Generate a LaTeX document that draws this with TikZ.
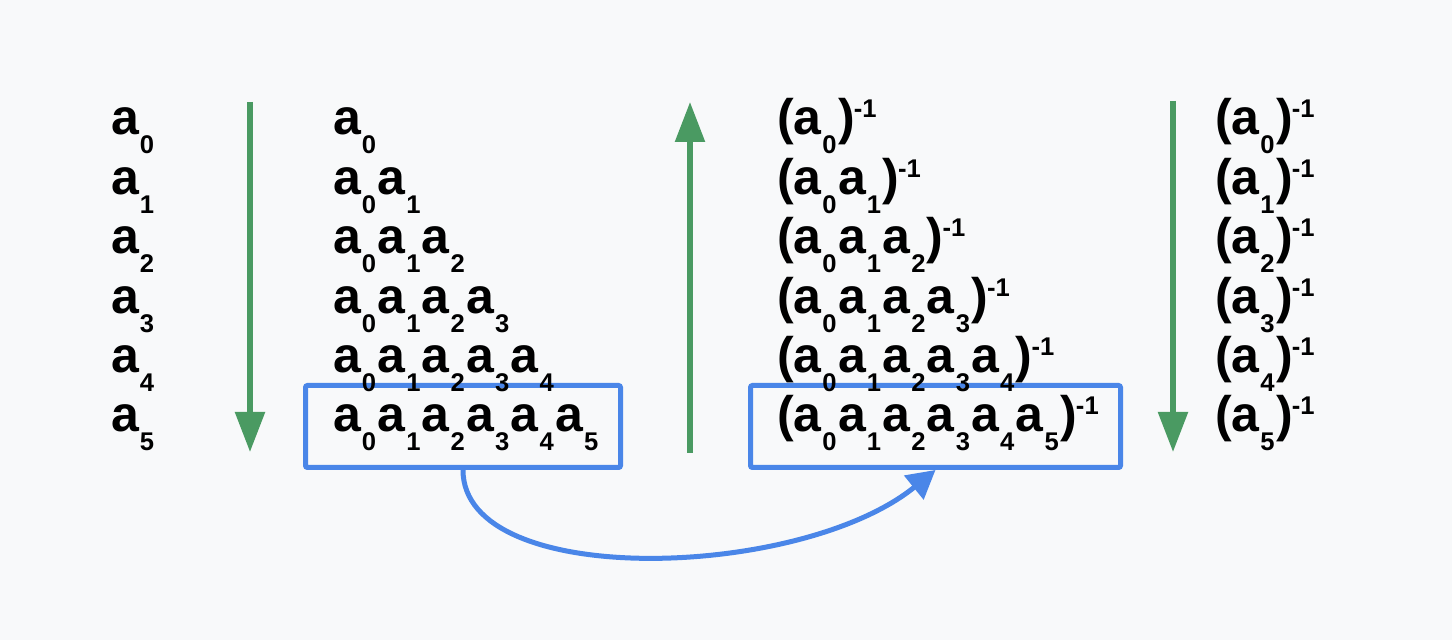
\documentclass[tikz,border=0pt]{standalone}
\usepackage{fontspec}
\setmainfont{Liberation Sans}
\usetikzlibrary{arrows.meta}
\definecolor{bg}{HTML}{F8F9FA}
\definecolor{grn}{HTML}{4A9A62}
\definecolor{blu}{HTML}{4A86E8}
\newcommand{\subf}{\fontsize{12.8}{12.8}\selectfont}
\newcommand{\ai}[1]{a\kern0.5pt\raisebox{-9.5pt}{\subf #1}\kern0.7pt}
\newcommand{\inv}{\kern-0.5pt\raisebox{8.5pt}{\subf -1}}
\begin{document}
\begin{tikzpicture}[x=0.5pt,y=-0.5pt,
  txt/.style={anchor=base west, inner sep=0pt, outer sep=0pt, font=\bfseries\fontsize{25}{25}\selectfont},
  box/.style={draw=blu, line width=2.5pt, rounded corners=1pt, inner sep=0pt},
  garrow/.style={draw=grn, line width=2.75pt, -{Triangle[width=14.5pt,length=20pt]}},
  barrow/.style={draw=blu, line width=2.5pt, -{Triangle[width=15pt,length=14pt]}}]
\fill[bg] (0,0) rectangle (1452,640);
% boxes
\node[box, minimum width=157.5pt, minimum height=41pt] (b1) at (463,426.5) {};
\node[box, minimum width=185pt, minimum height=41pt] (b2) at (935.5,426.5) {};
% column 1
\node[txt] (l0) at (111,135) {\ai0};
\node[txt] (l1) at (111,194.4) {\ai1};
\node[txt] (l2) at (111,253.8) {\ai2};
\node[txt] (l3) at (111,313.2) {\ai3};
\node[txt] (l4) at (111,372.6) {\ai4};
\node[txt] (l5) at (111,432) {\ai5};
% column 2
\node[txt] (m0) at (333,135) {\ai0};
\node[txt] (m1) at (333,194.4) {\ai0\ai1};
\node[txt] (m2) at (333,253.8) {\ai0\ai1\ai2};
\node[txt] (m3) at (333,313.2) {\ai0\ai1\ai2\ai3};
\node[txt] (m4) at (333,372.6) {\ai0\ai1\ai2\ai3\ai4};
\node[txt] (m5) at (333,432) {\ai0\ai1\ai2\ai3\ai4\ai5};
% column 3
\node[txt] (r0) at (777,135) {(\ai0)\inv};
\node[txt] (r1) at (777,194.4) {(\ai0\ai1)\inv};
\node[txt] (r2) at (777,253.8) {(\ai0\ai1\ai2)\inv};
\node[txt] (r3) at (777,313.2) {(\ai0\ai1\ai2\ai3)\inv};
\node[txt] (r4) at (777,372.6) {(\ai0\ai1\ai2\ai3\ai4)\inv};
\node[txt] (r5) at (777,432) {(\ai0\ai1\ai2\ai3\ai4\ai5)\inv};
% column 4
\node[txt] (s0) at (1215,135) {(\ai0)\inv};
\node[txt] (s1) at (1215,194.4) {(\ai1)\inv};
\node[txt] (s2) at (1215,253.8) {(\ai2)\inv};
\node[txt] (s3) at (1215,313.2) {(\ai3)\inv};
\node[txt] (s4) at (1215,372.6) {(\ai4)\inv};
\node[txt] (s5) at (1215,432) {(\ai5)\inv};
% green arrows
\coordinate (g1s) at (250,102);  \coordinate (g1e) at (250,452);
\coordinate (g2s) at (690,453);  \coordinate (g2e) at (690,102);
\coordinate (g3s) at (1173,101); \coordinate (g3e) at (1173,452);
\draw[garrow] (g1s) -- (g1e);
\draw[garrow] (g2s) -- (g2e);
\draw[garrow] (g3s) -- (g3e);
% blue curved connector
\draw[barrow] (b1.south) .. controls (463,590) and (800,580) .. (b2.south);
\end{tikzpicture}
\end{document}
